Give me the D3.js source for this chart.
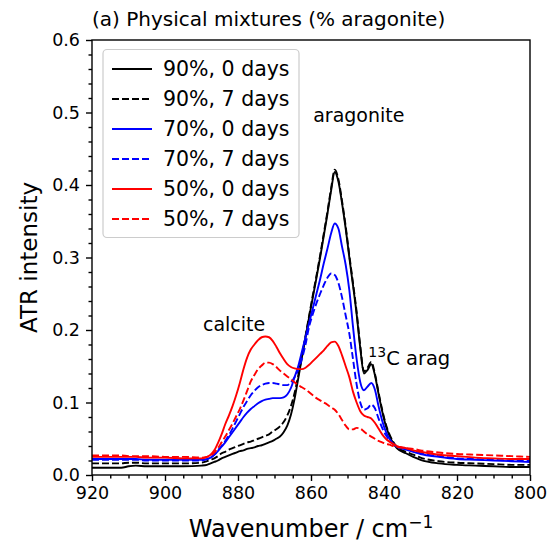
<!DOCTYPE html>
<html><head><meta charset="utf-8">
<script src="https://cdn.jsdelivr.net/npm/d3@7"></script>
<style>body{margin:0;background:#fff} text{font-family:"DejaVu Sans",sans-serif;fill:#000}</style>
</head><body><svg id="c" width="551" height="542"></svg>
<script>
// Wavenumber grid (cm^-1)
const wavenumber = [
  920,915,912,910,908,905,900,895,890,
  888.5,887.5,886.5,885.5,884.5,883.5,882.5,881.5,880.5,879.5,
  878.5,877.5,876.5,875.5,874.5,873.5,872.5,871.5,870.5,869.5,
  868.5,867.5,866.5,865.5,864.5,863.5,862.5,861.5,860.5,859.5,
  858.5,857.5,856.5,855.5,854.5,853.5,852.5,851.5,850.5,849.5,
  848.5,847.5,846.5,845.5,844.5,843.5,842.5,841.5,840.5,839.5,
  838.5,837.5,836.5,
  834,832,830,825,820,815,810,805,800];

const arag90_0d = [
  0.010,0.010,0.010,0.012,0.013,0.012,0.012,0.012,0.013,
  0.014,0.016,0.018,0.020,0.023,0.025,0.027,0.029,0.031,0.033,
  0.034,0.036,0.037,0.038,0.040,0.041,0.043,0.045,0.047,0.050,
  0.053,0.059,0.068,0.083,0.105,0.133,0.162,0.190,0.218,0.245,
  0.272,0.300,0.330,0.360,0.392,0.418,0.405,0.375,0.340,0.300,
  0.262,0.222,0.175,0.140,0.145,0.153,0.138,0.112,0.088,0.068,
  0.054,0.044,0.037,
  0.030,0.025,0.021,0.016,0.014,0.013,0.012,0.011,0.011];

const arag90_7d = [
  0.016,0.016,0.016,0.017,0.017,0.016,0.016,0.016,0.017,
  0.019,0.021,0.023,0.026,0.030,0.032,0.035,0.037,0.039,0.041,
  0.043,0.045,0.046,0.048,0.050,0.052,0.054,0.056,0.060,0.063,
  0.067,0.073,0.082,0.095,0.113,0.137,0.163,0.192,0.220,0.248,
  0.275,0.303,0.333,0.363,0.395,0.421,0.408,0.378,0.343,0.303,
  0.265,0.225,0.178,0.143,0.148,0.156,0.140,0.114,0.090,0.070,
  0.056,0.046,0.039,
  0.032,0.028,0.024,0.019,0.017,0.016,0.015,0.014,0.014];

const arag70_0d = [
  0.022,0.022,0.022,0.022,0.022,0.021,0.021,0.021,0.021,
  0.022,0.024,0.028,0.033,0.039,0.045,0.052,0.059,0.066,0.073,
  0.080,0.086,0.091,0.095,0.099,0.102,0.104,0.105,0.106,0.106,
  0.106,0.107,0.111,0.120,0.135,0.150,0.170,0.190,0.210,0.230,
  0.250,0.270,0.292,0.312,0.333,0.347,0.340,0.315,0.290,0.255,
  0.205,0.160,0.128,0.117,0.122,0.127,0.118,0.095,0.075,0.060,
  0.050,0.043,0.039,
  0.035,0.032,0.029,0.025,0.022,0.021,0.020,0.019,0.018];

const arag70_7d = [
  0.021,0.021,0.021,0.021,0.021,0.020,0.020,0.020,0.020,
  0.022,0.024,0.028,0.034,0.040,0.047,0.055,0.064,0.074,0.084,
  0.094,0.102,0.110,0.116,0.121,0.124,0.126,0.127,0.127,0.126,
  0.125,0.124,0.124,0.128,0.135,0.145,0.160,0.180,0.205,0.222,
  0.237,0.250,0.262,0.272,0.278,0.276,0.265,0.245,0.220,0.195,
  0.160,0.125,0.100,0.090,0.092,0.097,0.092,0.078,0.065,0.055,
  0.048,0.043,0.040,
  0.036,0.033,0.030,0.026,0.023,0.022,0.021,0.020,0.020];

const arag50_0d = [
  0.025,0.025,0.025,0.025,0.025,0.024,0.024,0.023,0.023,
  0.025,0.028,0.034,0.044,0.056,0.070,0.082,0.095,0.110,0.127,
  0.146,0.162,0.173,0.180,0.186,0.190,0.191,0.190,0.185,0.177,
  0.168,0.160,0.153,0.149,0.147,0.146,0.146,0.148,0.152,0.157,
  0.162,0.167,0.172,0.178,0.183,0.184,0.178,0.165,0.150,0.135,
  0.115,0.100,0.088,0.082,0.080,0.078,0.072,0.064,0.056,0.050,
  0.046,0.043,0.040,
  0.037,0.034,0.032,0.028,0.026,0.024,0.023,0.022,0.022];

const arag50_7d = [
  0.027,0.027,0.027,0.026,0.026,0.026,0.025,0.025,0.024,
  0.025,0.027,0.031,0.037,0.045,0.053,0.062,0.071,0.081,0.091,
  0.103,0.116,0.129,0.138,0.146,0.151,0.155,0.155,0.153,0.149,
  0.144,0.140,0.136,0.132,0.128,0.124,0.121,0.118,0.114,0.110,
  0.106,0.103,0.100,0.097,0.093,0.090,0.084,0.076,0.068,0.063,
  0.063,0.065,0.064,0.060,0.056,0.053,0.050,0.047,0.045,0.043,
  0.042,0.040,0.039,
  0.037,0.036,0.034,0.031,0.029,0.028,0.027,0.026,0.025];

const seriesLabels = ["90%, 0 days","90%, 7 days","70%, 0 days","70%, 7 days","50%, 0 days","50%, 7 days"];
const seriesValues = [arag90_0d, arag90_7d, arag70_0d, arag70_7d, arag50_0d, arag50_7d];
const seriesColors = ["#000000","#000000","#0000ff","#0000ff","#ff0000","#ff0000"];
const seriesDashed = [false,true,false,true,false,true];

const xTicks = [920,900,880,860,840,820,800];
const xMinor = [915,910,905,895,890,885,875,870,865,855,850,845,835,830,825,815,810,805];
const yTicks = [0.0,0.1,0.2,0.3,0.4,0.5,0.6];
const yMinor = [0.02,0.04,0.06,0.08,0.12,0.14,0.16,0.18,0.22,0.24,0.26,0.28,0.32,0.34,0.36,0.38,0.42,0.44,0.46,0.48,0.52,0.54,0.56,0.58];

const titleText = "(a) Physical mixtures (% aragonite)";
const annotations = [
  {text:"aragonite", w:859.4, v:0.487},
  {text:"calcite", w:889.6, v:0.199}
];

const L=92, R=530, T=40, B=475;
const LW = 1.9, DASH = "7,3";
const svg = d3.select("#c");
const x = d3.scaleLinear().domain([920,800]).range([L,R]);
const y = d3.scaleLinear().domain([0,0.6]).range([B,T]);

svg.append("defs").append("clipPath").attr("id","clip")
  .append("rect").attr("x",L).attr("y",T).attr("width",R-L).attr("height",B-T);

const line = d3.line().x(d=>x(d[0])).y(d=>y(d[1])).curve(d3.curveMonotoneX);
const g = svg.append("g").attr("clip-path","url(#clip)");
seriesValues.forEach((vals,i)=>{
  g.append("path")
    .datum(wavenumber.map((w,j)=>[w,vals[j]]))
    .attr("d",line).attr("fill","none")
    .attr("stroke",seriesColors[i]).attr("stroke-width",LW)
    .attr("stroke-dasharray",seriesDashed[i]?DASH:null);
});

// axes
const fs = "17.5px";
const xa = svg.append("g").attr("transform",`translate(0,${B})`)
  .call(d3.axisBottom(x).tickValues(xTicks).tickFormat(d3.format("d")).tickSize(6).tickSizeOuter(0).tickPadding(6));
xa.selectAll("text").style("font-size",fs).attr("fill","#000");
const xm = svg.append("g").attr("transform",`translate(0,${B})`)
  .call(d3.axisBottom(x).tickValues(xMinor).tickFormat("").tickSize(3.5).tickSizeOuter(0));
const ya = svg.append("g").attr("transform",`translate(${L},0)`)
  .call(d3.axisLeft(y).tickValues(yTicks).tickFormat(d3.format(".1f")).tickSize(6).tickSizeOuter(0).tickPadding(6));
ya.selectAll("text").style("font-size",fs).attr("fill","#000");
const ym = svg.append("g").attr("transform",`translate(${L},0)`)
  .call(d3.axisLeft(y).tickValues(yMinor).tickFormat("").tickSize(3.5).tickSizeOuter(0));
[xa,xm,ya,ym].forEach(a=>{a.select(".domain").remove(); a.selectAll("line").attr("stroke","#000").attr("stroke-width",1.4);});

svg.append("rect").attr("x",L).attr("y",T).attr("width",R-L).attr("height",B-T)
  .attr("fill","none").attr("stroke","#000").attr("stroke-width",1.4);

// labels
svg.append("text").attr("x",L).attr("y",26).style("font-size","20px").text(titleText);
svg.append("text").attr("x",(L+R)/2).attr("y",537).attr("text-anchor","middle").style("font-size","24px")
  .html('Wavenumber / cm<tspan dy="-9" style="font-size:17px">\u22121</tspan>');
svg.append("text").attr("transform",`translate(37,${(T+B)/2}) rotate(-90)`).attr("text-anchor","middle")
  .style("font-size","23px").text("ATR intensity");

annotations.forEach(a=>{
  svg.append("text").attr("x",x(a.w)).attr("y",y(a.v)).style("font-size","19px").text(a.text);
});
const c13 = svg.append("text").attr("x",x(844.3)).attr("y",y(0.1517)).style("font-size","19.5px");
c13.append("tspan").attr("dy","-8").style("font-size","14px").text("13");
c13.append("tspan").attr("dy","8").text("C arag");

// legend
const lg = svg.append("g");
lg.append("rect").attr("x",103).attr("y",49.5).attr("width",196).attr("height",188).attr("rx",4)
  .attr("fill","#fff").attr("fill-opacity",0.8).attr("stroke","#cccccc").attr("stroke-width",1.2);
seriesLabels.forEach((lab,i)=>{
  const cy = 69 + i*30;
  lg.append("line").attr("x1",112).attr("x2",152).attr("y1",cy).attr("y2",cy)
    .attr("stroke",seriesColors[i]).attr("stroke-width",LW)
    .attr("stroke-dasharray",seriesDashed[i]?DASH:null);
  lg.append("text").attr("x",163).attr("y",cy).attr("dy","0.35em").style("font-size","20.5px").text(lab);
});
</script></body></html>
